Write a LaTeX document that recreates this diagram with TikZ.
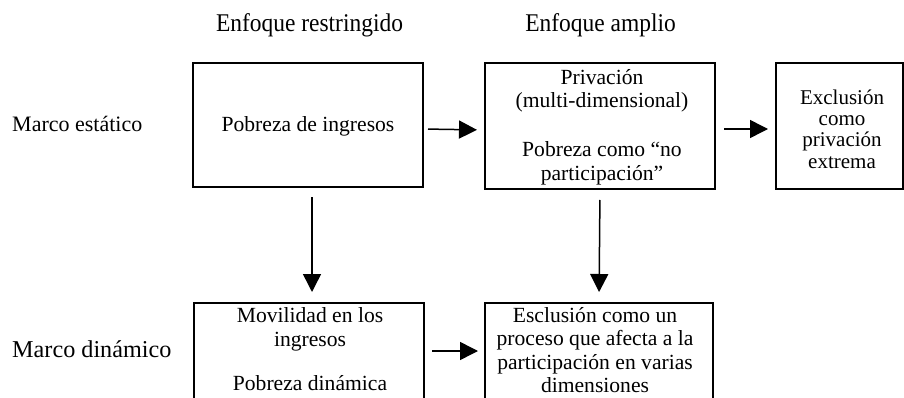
\documentclass[tikz,border=0pt]{standalone}
\usepackage{fontspec}
\setmainfont{Liberation Serif}
\usetikzlibrary{arrows.meta}
\tikzset{
  box/.style={draw, line width=1.6pt, inner sep=0pt, outer sep=0pt, anchor=north west},
  txt/.style={inner sep=0pt, anchor=base, font=\fontsize{21.6}{23.5}\selectfont},
  txts/.style={inner sep=0pt, anchor=base, font=\fontsize{21}{21}\selectfont},
  head/.style={inner sep=0pt, anchor=base, font=\fontsize{25.5}{27}\selectfont},
  side/.style={inner sep=0pt, anchor=base west},
  arr/.style={line width=1.5pt, -{Triangle[length=18pt,width=18pt]}}
}
\begin{document}
\begin{tikzpicture}[x=1pt,y=-1pt]
\useasboundingbox (0,0) rectangle (904,398);
\clip (0,0) rectangle (904,398);
\fill[white] (0,0) rectangle (904,398);
% headings
\node[head] (h1) at (309.5,32) {\scalebox{0.92}[1]{Enfoque restringido}};
\node[head] (h2) at (600.5,32) {\scalebox{0.92}[1]{Enfoque amplio}};
% row labels
\node[side, font=\fontsize{22}{24}\selectfont] (m1) at (12,132) {Marco estático};
\node[side, font=\fontsize{24.2}{26}\selectfont] (m2) at (12,357) {Marco dinámico};
% boxes
\node[box, minimum width=230pt, minimum height=124pt] (b1) at (193,63) {};
\node[box, minimum width=230pt, minimum height=126pt] (b2) at (485,63) {};
\node[box, minimum width=127pt, minimum height=126pt] (b3) at (776,63) {};
\node[box, minimum width=230pt, minimum height=130pt] (d1) at (194,303) {};
\node[box, minimum width=228pt, minimum height=130pt] (d2) at (485,303) {};
% box texts
\node[txt] (t1) at (308,132) {Pobreza de ingresos};
\node[txt] (t2a) at (602,85) {Privación};
\node[txt] (t2b) at (602,108) {(multi-dimensional)};
\node[txt] (t2c) at (602,157) {Pobreza como “no};
\node[txt] (t2d) at (602,180) {participación”};
\node[txts] (t3a) at (842,105) {Exclusión};
\node[txts] (t3b) at (842,126) {como};
\node[txts] (t3c) at (842,147) {privación};
\node[txts] (t3d) at (842,168) {extrema};
\node[txt] (t4a) at (310,322) {Movilidad en los};
\node[txt] (t4b) at (310,346) {ingresos};
\node[txt] (t4c) at (310,390) {Pobreza dinámica};
\node[txt] (t5a) at (595,322) {Esclusión como un};
\node[txt] (t5b) at (595,345) {proceso que afecta a la};
\node[txt] (t5c) at (595,369) {participación en varias};
\node[txt] (t5d) at (595,392) {dimensiones};
% connectors
\draw[arr, shorten <=5pt, shorten >=8pt] ([yshift=-4pt]b1.east) -- ([yshift=-4pt]b2.west);
\draw[arr, shorten <=9pt, shorten >=8pt] ([yshift=-3pt]b2.east) -- ([yshift=-3pt]b3.west);
\draw[arr, shorten <=8pt, shorten >=7pt] ([yshift=-48pt]d1.north east) -- ([yshift=-48pt]d2.north west);
\draw[arr, shorten <=10pt, shorten >=11pt] ([xshift=4pt]b1.south) -- ([xshift=3pt]d1.north);
\draw[arr, shorten <=11pt, shorten >=11pt] (b2.south) -- (d2.north);
\end{tikzpicture}
\end{document}
